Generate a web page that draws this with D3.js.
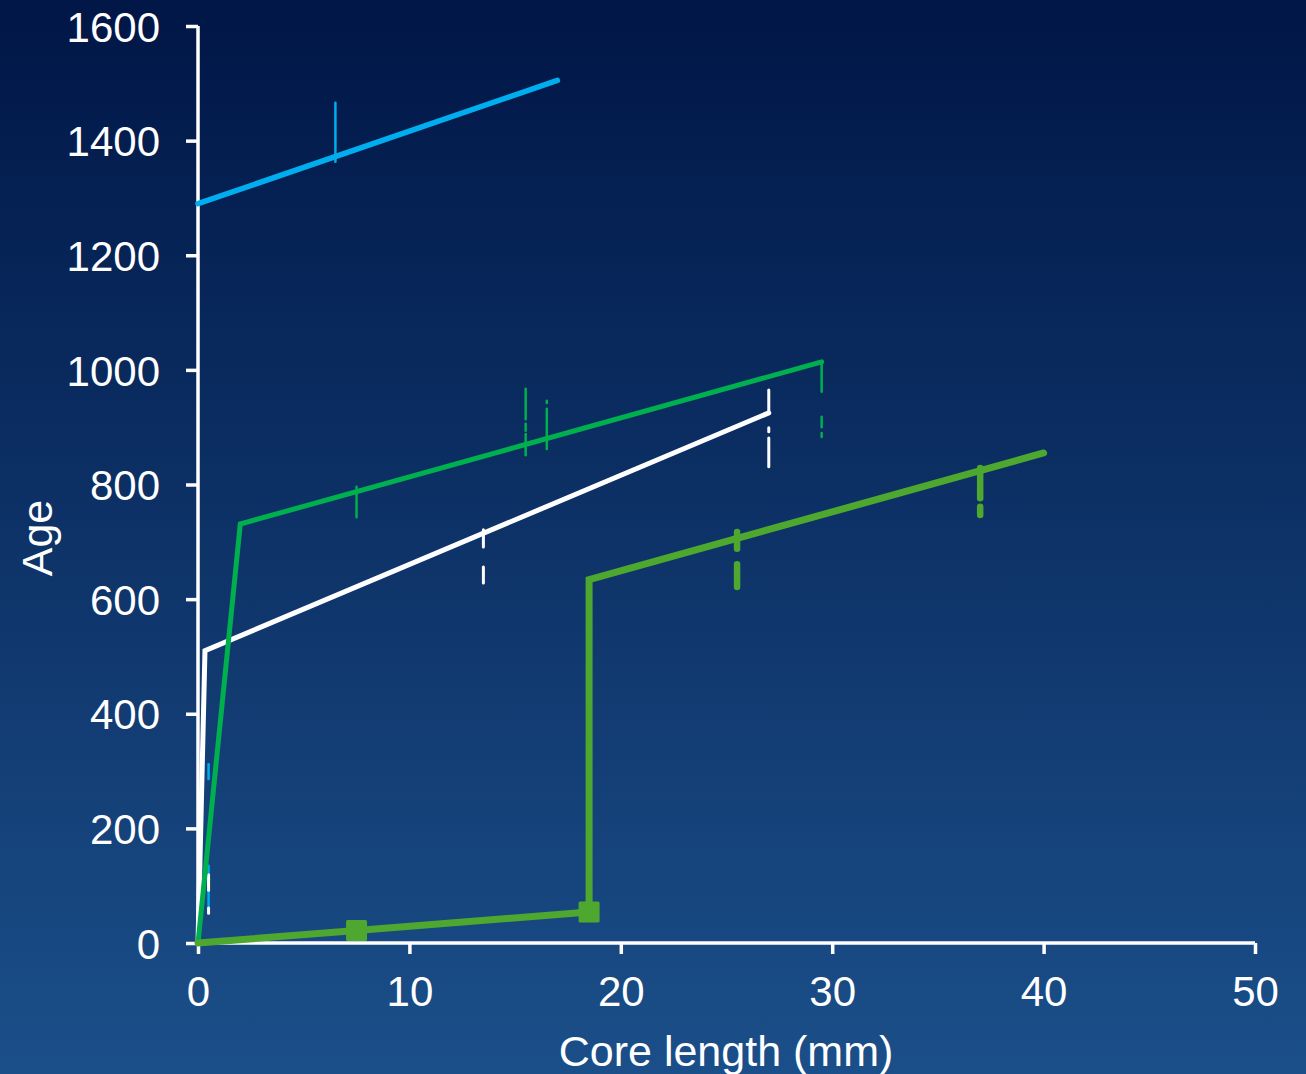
<!DOCTYPE html>
<html><head><meta charset="utf-8">
<script src="https://cdn.jsdelivr.net/npm/d3@7"></script>
<style>html,body{margin:0;padding:0;overflow:hidden;background:#0b2a5e}</style>
</head><body>
<svg id="chart" width="1306" height="1074"></svg>
<script>
// ---- data ----
const xTicks = [0, 10, 20, 30, 40, 50];
const yTicks = [0, 200, 400, 600, 800, 1000, 1200, 1400, 1600];
const blueLine = [[0, 1290], [17, 1505]];
const whiteLine = [[0, 0], [0.33, 510], [27, 925]];
const greenLine = [[0, 0], [2, 731], [29.5, 1014]];
const limeLine = [[0, 0], [7.5, 22], [18.5, 54], [18.5, 634], [40, 855]];
const limeSquares = [[7.5, 22], [18.5, 54]];
// error bars: [x, [[low, high], ...]]
const blueErr = [[6.5, [[1363, 1466]]], [0.5, [[286, 312], [60, 135]]]];
const whiteErr = [[0.5, [[181, 194], [92, 119], [52, 61]]], [13.5, [[691, 721], [628, 656]]], [27, [[925, 965], [892, 899], [831, 881]]]];
const greenErr = [[7.5, [[778, 796], [743, 775]]], [15.5, [[914, 967], [894, 906], [851, 888]]], [16.5, [[942, 946], [862, 932]]], [29.5, [[962, 1014], [900, 918], [883, 890]]]];
const limeErr = [[25.5, [[688, 717], [621, 661]]], [37, [[776, 829], [747, 761]]]];

const svg = d3.select("#chart");
const W = 1306, H = 1074;
const defs = svg.append("defs");
const grad = defs.append("linearGradient").attr("id", "bg").attr("x1", 0).attr("y1", 0).attr("x2", 0).attr("y2", 1);
grad.append("stop").attr("offset", "0%").attr("stop-color", "#001646");
grad.append("stop").attr("offset", "100%").attr("stop-color", "#1b4f89");
svg.append("rect").attr("width", W).attr("height", H).attr("fill", "url(#bg)");

const x = d3.scaleLinear().domain([0, 50]).range([198, 1255]);
const y = d3.scaleLinear().domain([0, 1600]).range([943, 26]);
const font = "'Liberation Sans', Arial, sans-serif";

// axes
const xAxis = svg.append("g").attr("transform", `translate(0,${y(0)})`)
  .call(d3.axisBottom(x).tickValues(xTicks).tickSize(11).tickPadding(22).tickFormat(d3.format("d")));
const yAxis = svg.append("g").attr("transform", `translate(${x(0)},0)`)
  .call(d3.axisLeft(y).tickValues(yTicks).tickSize(12).tickPadding(26).tickFormat(d3.format("d")));
[xAxis, yAxis].forEach(g => {
  g.select(".domain").attr("stroke", "#fff").attr("stroke-width", 3.5);
  g.selectAll(".tick line").attr("stroke", "#fff").attr("stroke-width", 3.5);
  g.selectAll(".tick text").attr("fill", "#fff").style("font-family", font).style("font-size", "42px");
});
xAxis.select(".domain").attr("d", `M${x(0)},0H${x(50)}`);
yAxis.select(".domain").attr("d", `M0,${y(0)}V${y(1600)}`);
yAxis.selectAll(".tick text").attr("dy", "0.36em");

// axis titles
svg.append("text").attr("x", 726).attr("y", 1066).attr("text-anchor", "middle")
  .attr("fill", "#fff").style("font-family", font).style("font-size", "43px").text("Core length (mm)");
svg.append("text").attr("transform", "translate(52,538) rotate(-90)").attr("text-anchor", "middle")
  .attr("fill", "#fff").style("font-family", font).style("font-size", "43px").text("Age");

const line = d3.line().x(d => x(d[0])).y(d => y(d[1]));

function errBars(data, color, w) {
  const segs = [];
  data.forEach(([xv, ranges]) => ranges.forEach(r => segs.push([xv, r[0], r[1]])));
  svg.append("g").selectAll("line").data(segs).join("line")
    .attr("x1", d => x(d[0])).attr("x2", d => x(d[0]))
    .attr("y1", d => y(d[1])).attr("y2", d => y(d[2]))
    .attr("stroke", color).attr("stroke-width", w).attr("stroke-linecap", "round");
}
function series(pts, color, w) {
  svg.append("path").datum(pts).attr("d", line).attr("fill", "none")
    .attr("stroke", color).attr("stroke-width", w).attr("stroke-linejoin", "miter").attr("stroke-linecap", "round");
}

const BLUE = "#00aeef", GREEN = "#00b04f", LIME = "#4ea72e", WHITE = "#ffffff";
errBars(blueErr, BLUE, 2.5);
errBars(whiteErr, WHITE, 3);
errBars(greenErr, GREEN, 2.5);
errBars(limeErr, LIME, 6.5);

series(whiteLine, WHITE, 5);
series(greenLine, GREEN, 5);
series(blueLine, BLUE, 5.5);
series(limeLine, LIME, 7);

svg.append("g").selectAll("rect").data(limeSquares).join("rect")
  .attr("x", d => x(d[0]) - 10.5).attr("y", d => y(d[1]) - 10.5)
  .attr("width", 21).attr("height", 21).attr("rx", 1.5).attr("fill", LIME);
</script>
</body></html>
